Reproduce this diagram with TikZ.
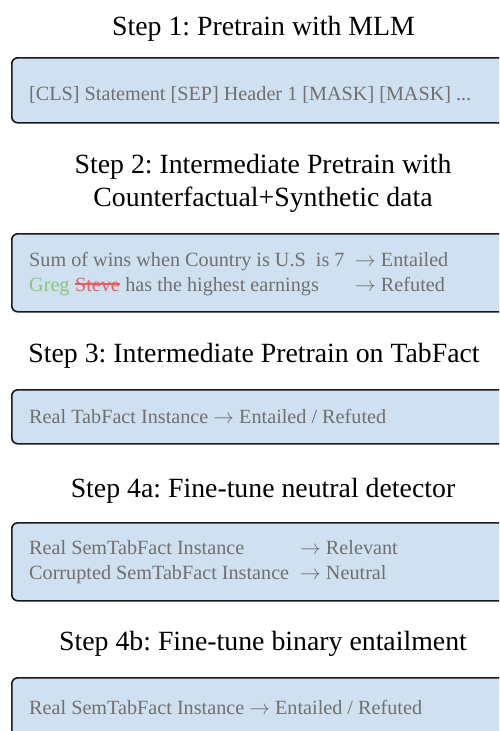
\documentclass[tikz,border=0pt]{standalone}
\usepackage{fontspec}
\setmainfont{Liberation Serif}
\frenchspacing
\definecolor{boxfill}{RGB}{207,224,241}
\definecolor{txtgray}{RGB}{112,112,112}
\definecolor{greggreen}{RGB}{140,196,120}
\definecolor{stevered}{RGB}{228,96,96}
\newcommand{\rarr}{\ensuremath{\rightarrow}}
\begin{document}
\begin{tikzpicture}[x=1pt,y=-1pt,
  title/.style={font=\fontsize{27.8}{33}\selectfont, text=black, inner sep=0pt, anchor=base},
  stagebox/.style={draw=black!90, line width=1.6pt, fill=boxfill, rounded corners=6pt, anchor=north west, minimum width=505pt, inner sep=0pt},
  boxtext/.style={font=\fontsize{20.2}{25}\selectfont, text=txtgray, inner sep=0pt, anchor=base west}]
\useasboundingbox (0,0) rectangle (499,731);
\begin{scope}
\clip (0,0) rectangle (499,731);
% Step 1
\node[title] (t1) at (263.5,35) {Step 1: Pretrain with MLM};
\node[stagebox, minimum height=65pt] (b1) at (11,57) {};
\node[boxtext] (b1l1) at (29,100) {[CLS] Statement [SEP] Header 1 [MASK] [MASK] ...};
% Step 2
\node[title] (t2a) at (263,173) {Step 2: Intermediate Pretrain with};
\node[title] (t2b) at (263,206) {Counterfactual+Synthetic data};
\node[stagebox, minimum height=78pt] (b2) at (11,233) {};
\node[boxtext] (b2l1) at (29,266) {Sum of wins when Country is U.S\ \ is 7};
\node[boxtext] (b2r1) at (355,266) {\rarr{} Entailed};
\node[boxtext, text=greggreen] (b2g) at (29,291) {Greg};
\node[boxtext, text=stevered] (b2s) at ([xshift=5.05pt]b2g.base east) {Steve};
\node[boxtext] (b2l2) at ([xshift=5.05pt]b2s.base east) {has the highest earnings};
\draw[stevered, line width=1.3pt] ([yshift=7pt]b2s.base west) -- ([yshift=7pt]b2s.base east);
\node[boxtext] (b2r2) at (355,291) {\rarr{} Refuted};
% Step 3
\node[title] (t3) at (254,362) {Step 3: Intermediate Pretrain on TabFact};
\node[stagebox, minimum height=54pt] (b3) at (11,389) {};
\node[boxtext] (b3l1) at (29,423) {Real TabFact Instance \rarr{} Entailed / Refuted};
% Step 4a
\node[title] (t4a) at (263,497) {Step 4a: Fine-tune neutral detector};
\node[stagebox, minimum height=78pt] (b4a) at (11,522) {};
\node[boxtext] (b4al1) at (29,554) {Real SemTabFact Instance};
\node[boxtext] (b4ar1) at (300,554) {\rarr{} Relevant};
\node[boxtext] (b4al2) at (29,579) {Corrupted SemTabFact Instance};
\node[boxtext] (b4ar2) at (300,579) {\rarr{} Neutral};
% Step 4b
\node[title] (t4b) at (263,650) {Step 4b: Fine-tune binary entailment};
\node[stagebox, minimum height=90pt] (b4b) at (11,677) {};
\node[boxtext] (b4bl1) at (29,714) {Real SemTabFact Instance \rarr{} Entailed / Refuted};
\end{scope}
\end{tikzpicture}
\end{document}
